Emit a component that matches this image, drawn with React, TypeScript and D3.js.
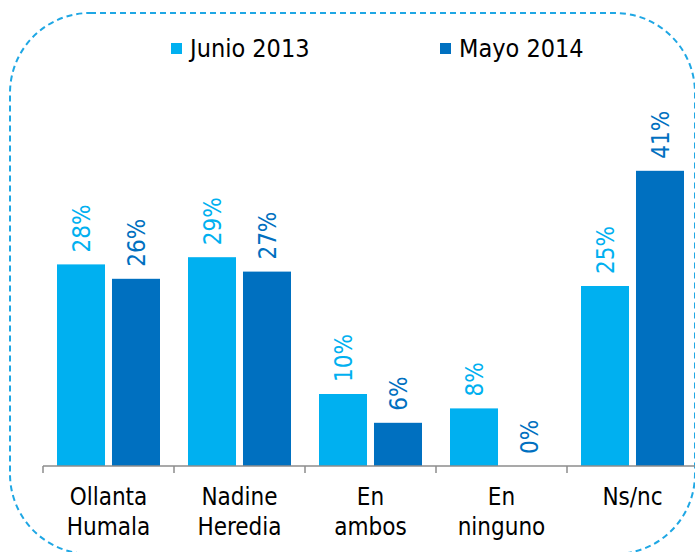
import React from "react";
import * as d3 from "d3";

const categories: string[][] = [
  ["Ollanta", "Humala"],
  ["Nadine", "Heredia"],
  ["En", "ambos"],
  ["En", "ninguno"],
  ["Ns/nc"],
];
const seriesNames = ["Junio 2013", "Mayo 2014"];
const junio2013 = [28, 29, 10, 8, 25];
const mayo2014 = [26, 27, 6, 0, 41];
const seriesColors = ["#00B0F0", "#0070C0"];

const W = 695;
const H = 552;
const FONT = "'DejaVu Sans Condensed', 'DejaVu Sans', sans-serif";

export default function App() {
  const keys = categories.map((c) => c.join(" "));
  const x0 = d3.scaleBand<string>().domain(keys).range([43, 698]).padding(0);
  const x1 = d3
    .scaleBand<string>()
    .domain(seriesNames)
    .range([14, 117])
    .paddingInner(0.127);
  const baseY = 466;
  const y = d3.scaleLinear().domain([0, 50]).range([baseY, baseY - 360]);
  const data = [junio2013, mayo2014];

  return (
    <svg
      width={W}
      height={H}
      style={{ position: "absolute", left: 0, top: 0 }}
      fontFamily={FONT}
    >
      <rect width={W} height={H} fill="#ffffff" />
      <rect
        x={10}
        y={13}
        width={685}
        height={541}
        rx={80}
        ry={80}
        fill="none"
        stroke="#1FA7E4"
        strokeWidth={2}
        strokeDasharray="6 4"
      />
      {/* legend */}
      {seriesNames.map((s, i) => {
        const lx = i === 0 ? 171 : 440;
        return (
          <g key={s}>
            <rect x={lx} y={43} width={11} height={11} fill={seriesColors[i]} />
            <text x={lx + 19} y={57} fontSize={25} fill="#000">
              {s}
            </text>
          </g>
        );
      })}
      {/* bars */}
      {keys.map((k, ci) =>
        seriesNames.map((s, si) => {
          const v = data[si][ci];
          const bx = (x0(k) as number) + (x1(s) as number);
          const bw = x1.bandwidth();
          const top = y(v);
          const cx = bx + bw / 2;
          return (
            <g key={k + s}>
              <rect x={bx} y={top} width={bw} height={baseY - top} fill={seriesColors[si]} />
              <text
                transform={`translate(${cx + 1},${top - 12}) rotate(-90)`}
                fontSize={24}
                fill={seriesColors[si]}
                dominantBaseline="central"
              >
                {v + "%"}
              </text>
            </g>
          );
        })
      )}
      {/* axis */}
      <line x1={43} x2={698} y1={baseY} y2={baseY} stroke="#8C8C8C" strokeWidth={1.5} />
      {[...keys.map((k) => x0(k) as number), 698].map((t, i) => (
        <line key={i} x1={t} x2={t} y1={baseY} y2={baseY + 7} stroke="#8C8C8C" strokeWidth={1.5} />
      ))}
      {keys.map((k, ci) => {
        const cx = (x0(k) as number) + x0.bandwidth() / 2;
        return (
          <text key={k} x={cx} y={505} fontSize={24} textAnchor="middle" fill="#000">
            {categories[ci].map((line, li) => (
              <tspan key={li} x={cx} y={505 + li * 30}>
                {line}
              </tspan>
            ))}
          </text>
        );
      })}
    </svg>
  );
}
